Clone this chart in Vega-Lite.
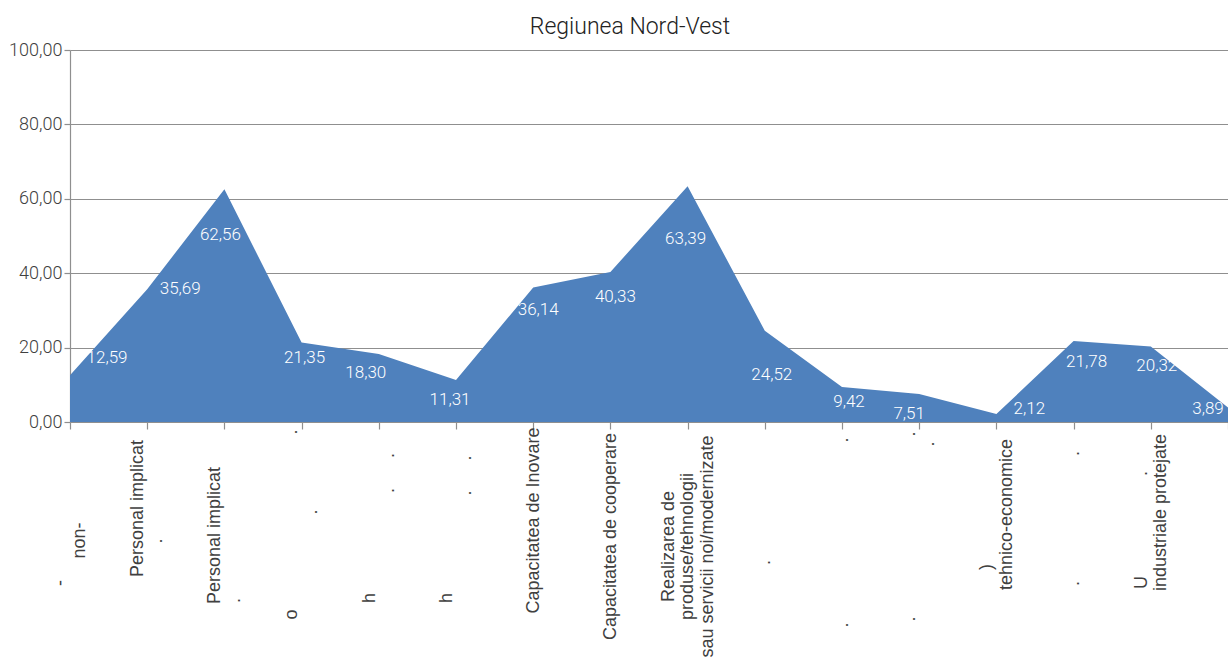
{
  "$schema": "https://vega.github.io/schema/vega-lite/v6.json",
  "autosize": {"type": "none"},
  "padding": {"left": 70, "top": 50, "right": 0, "bottom": 235},
  "width": 1158,
  "height": 372,
  "background": "white",
  "title": {"text": "Regiunea Nord-Vest", "font": "Roboto", "fontSize": 23, "fontWeight": 300, "color": "#222222", "anchor": "middle", "frame": "group", "offset": 18, "baseline": "alphabetic", "dx": -19, "dy": 34},
  "config": {
    "view": {"stroke": null},
    "locale": {"number": {"decimal": ",", "thousands": ".", "grouping": [3], "currency": ["", ""]}}
  },
  "data": {"values": [
    {"n": 0, "indicator": "-\u00a0\u00a0\u00a0\u00a0\u00a0\u00a0\u00a0\u00a0\u00a0\u00a0\u00a0\u00a0\u00a0\u00a0\u00a0\u00a0\u00a0\u200b|non-", "value": 12.59},
    {"n": 1, "indicator": "Personal implicat|.\u00a0\u00a0\u00a0\u00a0\u00a0\u00a0\u00a0\u00a0\u00a0\u00a0\u00a0\u00a0\u00a0\u200b", "value": 35.69},
    {"n": 2, "indicator": "Personal implicat|.\u00a0\u00a0\u00a0\u00a0\u00a0\u00a0\u00a0\u00a0\u00a0\u00a0\u00a0\u00a0\u00a0\u00a0\u00a0\u00a0\u00a0\u00a0\u00a0\u00a0\u00a0\u00a0\u00a0\u00a0\u00a0\u00a0\u200b", "value": 62.56},
    {"n": 3, "indicator": "o\u00a0\u00a0\u00a0\u00a0\u00a0\u00a0\u00a0\u00a0\u00a0\u00a0\u00a0\u00a0\u00a0\u00a0\u00a0\u00a0\u00a0\u00a0\u00a0\u00a0\u00a0\u00a0\u00a0\u00a0\u00a0\u00a0\u00a0\u00a0\u00a0\u00a0\u00a0\u00a0\u00a0\u00a0\u00a0.|\u200b\u00a0\u00a0\u00a0\u00a0\u00a0.", "value": 21.35},
    {"n": 4, "indicator": "h\u00a0\u00a0\u00a0\u00a0\u00a0\u00a0\u00a0\u00a0\u00a0\u00a0\u00a0\u00a0\u00a0\u00a0\u00a0\u00a0\u00a0\u00a0\u00a0\u00a0\u00a0\u00a0\u00a0\u00a0\u00a0\u200b|\u200b\u00a0\u00a0\u00a0\u00a0\u00a0\u00a0\u00a0\u00a0\u00a0\u00a0\u00a0\u00a0\u00a0\u00a0\u00a0\u00a0\u00a0\u00a0\u00a0\u00a0\u00a0\u00a0\u00a0\u00a0\u00a0.\u00a0\u00a0\u00a0\u00a0\u00a0\u00a0.", "value": 18.30},
    {"n": 5, "indicator": "h\u00a0\u00a0\u00a0\u00a0\u00a0\u00a0\u00a0\u00a0\u00a0\u00a0\u00a0\u00a0\u00a0\u00a0\u00a0\u00a0\u00a0\u00a0\u00a0\u00a0\u00a0\u00a0\u00a0\u00a0\u00a0\u200b|\u200b\u00a0\u00a0\u00a0\u00a0\u00a0\u00a0\u00a0\u00a0\u00a0\u00a0\u00a0\u00a0\u00a0\u00a0\u00a0\u00a0\u00a0\u00a0\u00a0\u00a0\u00a0\u00a0\u00a0\u00a0.\u00a0\u00a0\u00a0\u00a0\u00a0\u00a0.", "value": 11.31},
    {"n": 6, "indicator": "Capacitatea de Inovare", "value": 36.14},
    {"n": 7, "indicator": "Capacitatea de cooperare", "value": 40.33},
    {"n": 8, "indicator": "Realizarea de|produse/tehnologii|sau servicii noi/modernizate", "value": 63.39},
    {"n": 9, "indicator": ".", "value": 24.52},
    {"n": 10, "indicator": ".\u00a0\u00a0\u00a0\u00a0\u00a0\u00a0\u00a0\u00a0\u00a0\u00a0\u00a0\u00a0\u00a0\u00a0\u00a0\u00a0\u00a0\u00a0\u00a0\u00a0\u00a0\u00a0\u00a0\u00a0\u00a0\u00a0\u00a0\u00a0\u00a0\u00a0\u00a0\u00a0\u00a0\u00a0\u00a0\u00a0.", "value": 9.42},
    {"n": 11, "indicator": ".\u00a0\u00a0\u00a0\u00a0\u00a0\u00a0\u00a0\u00a0\u00a0\u00a0\u00a0\u00a0\u00a0\u00a0\u00a0\u00a0\u00a0\u00a0\u00a0\u00a0\u00a0\u00a0\u00a0\u00a0\u00a0\u00a0\u00a0\u00a0\u00a0\u00a0\u00a0\u00a0\u00a0\u00a0\u00a0\u00a0.|\u200b\u00a0\u00a0\u00a0\u00a0\u00a0\u00a0\u00a0\u00a0\u00a0\u00a0\u00a0\u00a0\u00a0\u00a0\u00a0\u00a0\u00a0\u00a0\u00a0\u00a0\u00a0\u00a0\u00a0\u00a0\u00a0\u00a0\u00a0\u00a0\u00a0\u00a0\u00a0\u00a0\u00a0.", "value": 7.51},
    {"n": 12, "indicator": ")\u00a0\u00a0\u00a0\u00a0\u00a0\u00a0\u00a0\u00a0\u00a0\u00a0\u00a0\u00a0\u00a0\u00a0\u00a0\u00a0\u00a0\u00a0\u00a0\u00a0\u00a0\u200b|tehnico-economice", "value": 2.12},
    {"n": 13, "indicator": ".\u00a0\u00a0\u00a0\u00a0\u00a0\u00a0\u00a0\u00a0\u00a0\u00a0\u00a0\u00a0\u00a0\u00a0\u00a0\u00a0\u00a0\u00a0\u00a0\u00a0\u00a0\u00a0\u00a0\u00a0\u00a0.", "value": 21.78},
    {"n": 14, "indicator": "U\u00a0\u00a0\u00a0\u00a0\u00a0\u00a0\u00a0\u00a0\u00a0\u00a0\u00a0\u00a0\u00a0\u00a0\u00a0\u00a0\u00a0\u00a0\u00a0\u00a0.\u00a0\u00a0\u00a0\u00a0\u00a0\u00a0\u00a0\u200b|industriale protejate", "value": 20.32},
    {"n": 15, "indicator": ".\u00a0\u00a0\u00a0\u00a0\u00a0\u00a0\u00a0\u00a0\u00a0\u00a0\u00a0\u00a0\u00a0\u00a0\u00a0\u00a0\u00a0\u00a0\u00a0\u00a0\u00a0\u00a0.", "value": 3.89}
  ]},
  "encoding": {
    "x": {
      "field": "indicator", "type": "ordinal", "sort": null,
      "scale": {"type": "point", "padding": 0},
      "axis": {
        "title": null, "grid": false,
        "domainColor": "#8f8f8f", "domainWidth": 1.2,
        "tickColor": "#8f8f8f", "tickSize": 7, "tickWidth": 1.2,
        "labelAngle": 270, "labelAlign": "center", "labelBaseline": "middle",
        "labelFont": "Liberation Sans", "labelFontSize": 18, "labelLineHeight": 19.5,
        "labelColor": "#404040", "labelLimit": 0, "labelOverlap": false, "labelBound": false, "labelFlush": false,
        "labelExpr": "split(datum.label, '|')",
        "labelOffset": {"expr": "-(length(split(datum.label, '|')) - 1) * 9.75"},
        "labelPadding": {"expr": "[111,79,106,95,106,106,91,107,117,133,103,97,85,89,83,134][round(datum.index*15)]"}
      }
    },
    "y": {
      "field": "value", "type": "quantitative",
      "scale": {"domain": [0, 100], "nice": false},
      "axis": {
        "title": null, "values": [0, 20, 40, 60, 80, 100], "format": ".2f",
        "grid": true, "gridColor": "#8f8f8f", "gridWidth": 1.2,
        "domainColor": "#8f8f8f", "domainWidth": 1.2,
        "tickColor": "#8f8f8f", "tickSize": 6, "tickWidth": 1.2,
        "labelFont": "Roboto", "labelFontWeight": 300, "labelFontSize": 18, "labelColor": "#404040", "labelPadding": 2
      }
    }
  },
  "layer": [
    {"mark": {"type": "area", "color": "#4F81BD", "opacity": 1, "interpolate": "linear"}},
    {
      "mark": {
        "type": "text", "color": "#ffffff", "font": "Roboto", "fontWeight": 300, "fontSize": 17,
        "align": "center", "baseline": "middle",
        "dx": {"expr": "[37,33,-4,3,-13,-6,5,5,-2,7,7,-10,33,13,6,-20][datum.n]"},
        "dy": {"expr": "[-17,0,46,15,19,20,22,25,53,44,15,20,-5,21,20,1][datum.n]"}
      },
      "encoding": {"text": {"field": "value", "type": "quantitative", "format": ".2f"}}
    }
  ]
}
